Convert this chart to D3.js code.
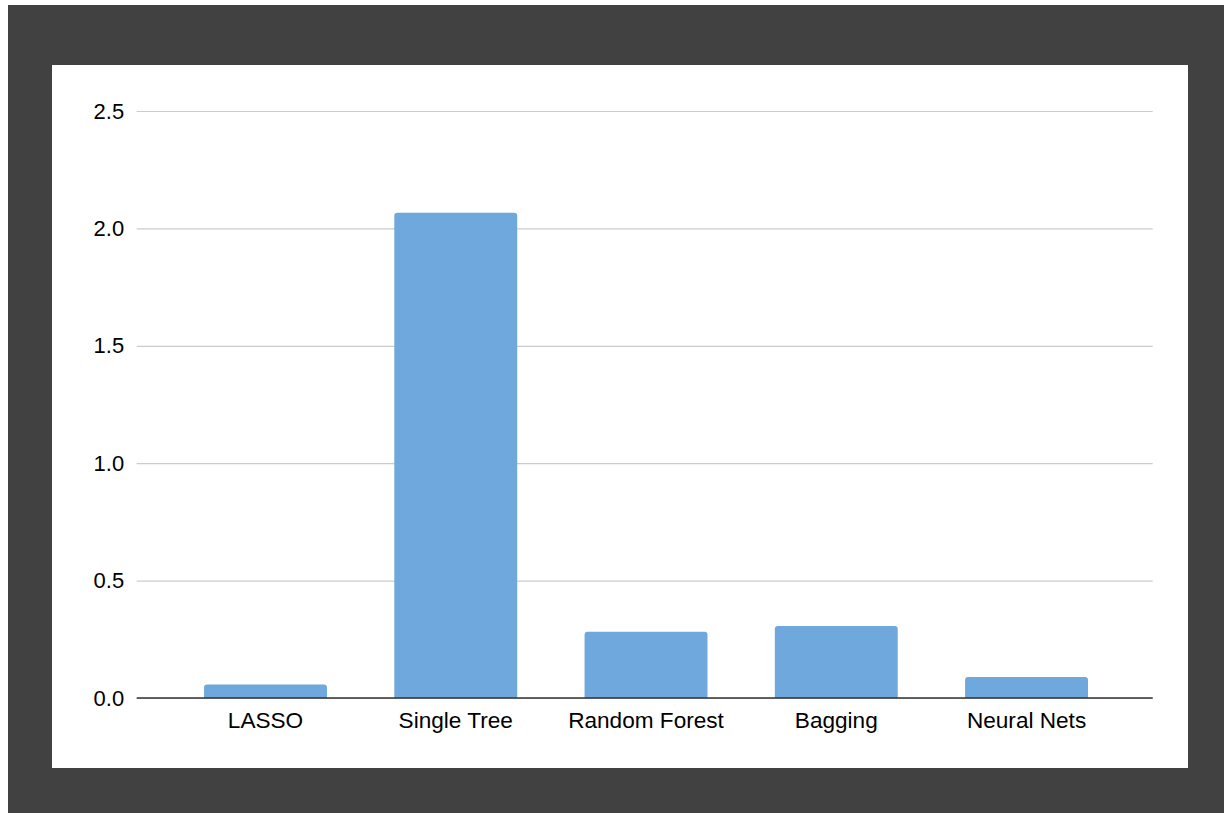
<!DOCTYPE html>
<html>
<head>
<meta charset="utf-8">
<script src="https://cdn.jsdelivr.net/npm/d3@7"></script>
<style>
  html, body { margin: 0; padding: 0; background: #ffffff; }
  svg { display: block; }
  text { font-family: "Liberation Sans", Arial, sans-serif; }
</style>
</head>
<body>
<svg id="chart" width="1224" height="813"></svg>
<script>
// Model error by method
const categories = ["LASSO", "Single Tree", "Random Forest", "Bagging", "Neural Nets"];
const values = [0.057, 2.067, 0.282, 0.307, 0.089];
const yTicks = [0, 0.5, 1.0, 1.5, 2.0, 2.5];

const svg = d3.select("#chart");

// dark frame and white card
svg.append("rect").attr("x", 8).attr("y", 5).attr("width", 1216).attr("height", 808).attr("fill", "#414141");
svg.append("rect").attr("x", 52).attr("y", 65).attr("width", 1136).attr("height", 703).attr("fill", "#ffffff");

const plot = { left: 136.7, right: 1152.7, top: 111, bottom: 698 };

const x = d3.scaleBand()
  .domain(categories)
  .range([plot.left, plot.right])
  .paddingInner(0.354)
  .paddingOuter(0.347)
  .align(0.51);

const y = d3.scaleLinear()
  .domain([0, 2.5])
  .range([plot.bottom, plot.top]);

// horizontal gridlines + y tick labels
const yAxis = d3.axisLeft(y)
  .tickValues(yTicks)
  .tickFormat(d3.format(".1f"))
  .tickSize(-(plot.right - plot.left))
  .tickPadding(12);

const gy = svg.append("g")
  .attr("transform", `translate(${plot.left},0)`)
  .call(yAxis);
gy.select(".domain").remove();
gy.selectAll(".tick line").attr("stroke", "#cccccc").attr("stroke-width", 1.2);
gy.selectAll(".tick text")
  .attr("fill", "#000000")
  .style("font-size", "22px")
  .attr("x", -12.5);

// bars with slightly rounded top corners
const r = 3;
function barPath(d, i) {
  const x0 = x(categories[i]);
  const w = x.bandwidth();
  const y0 = y(d);
  const y1 = y(0);
  return `M${x0},${y1}V${y0 + r}Q${x0},${y0} ${x0 + r},${y0}H${x0 + w - r}Q${x0 + w},${y0} ${x0 + w},${y0 + r}V${y1}Z`;
}
svg.append("g")
  .selectAll("path")
  .data(values)
  .join("path")
  .attr("d", barPath)
  .attr("fill", "#6fa8dc");

// x axis baseline and category labels
const xAxis = d3.axisBottom(x).tickSize(0).tickPadding(14);
const gx = svg.append("g")
  .attr("transform", `translate(0,${y(0)})`)
  .call(xAxis);
gx.select(".domain")
  .attr("stroke", "#333333")
  .attr("stroke-width", 1.5)
  .attr("d", `M${plot.left},0H${plot.right}`);
gx.selectAll(".tick text")
  .attr("fill", "#000000")
  .style("font-size", "22.6px");
</script>
</body>
</html>
